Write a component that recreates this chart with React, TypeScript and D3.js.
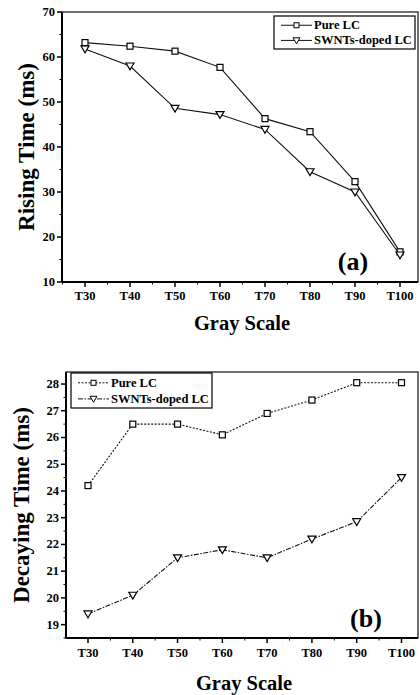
import React, { useEffect, useRef } from 'react';
import * as d3 from 'd3';

// gray scale levels
const grayLevels = ['T30', 'T40', 'T50', 'T60', 'T70', 'T80', 'T90', 'T100'];
const seriesNames = ['Pure LC', 'SWNTs-doped LC'];

// (a) rising time, ms
const risingPure = [63.2, 62.4, 61.3, 57.7, 46.3, 43.4, 32.3, 16.7];
const risingDoped = [61.8, 58.0, 48.6, 47.2, 43.9, 34.5, 30.0, 16.0];
const risingTicks = [10, 20, 30, 40, 50, 60, 70];

// (b) decaying time, ms
const decayPure = [24.2, 26.5, 26.5, 26.1, 26.9, 27.4, 28.05, 28.05];
const decayDoped = [19.4, 20.1, 21.5, 21.8, 21.5, 22.2, 22.85, 24.5];
const decayTicks = [19, 20, 21, 22, 23, 24, 25, 26, 27, 28];

const FONT = "'Liberation Serif', 'DejaVu Serif', serif";

type Panel = {
  top: number; bottom: number; left: number; right: number;
  x0: number; x1: number;
  yDomain: [number, number];
  ticks: number[]; minorStep: number;
  pure: number[]; doped: number[];
  yTitle: string; tag: string;
  tagX: number; tagY: number;
  legend: { x: number; y: number; w: number; h: number };
  pureDash: string | null; dopedDash: string | null;
  tickLabelY: number; titleY: number; yTitleX: number;
};

const panels: Panel[] = [
  {
    top: 12, bottom: 282, left: 62, right: 418,
    x0: 85, x1: 400,
    yDomain: [10, 70], ticks: risingTicks, minorStep: 5,
    pure: risingPure, doped: risingDoped,
    yTitle: 'Rising Time (ms)', tag: '(a)', tagX: 353, tagY: 270,
    legend: { x: 274, y: 16, w: 141, h: 33 },
    pureDash: null, dopedDash: null,
    tickLabelY: 300, titleY: 330, yTitleX: 26,
  },
  {
    top: 372, bottom: 638, left: 66, right: 418,
    x0: 88, x1: 401.5,
    yDomain: [18.5, 28.45], ticks: decayTicks, minorStep: 0.5,
    pure: decayPure, doped: decayDoped,
    yTitle: 'Decaying Time (ms)', tag: '(b)', tagX: 366, tagY: 627,
    legend: { x: 71, y: 373, w: 141, h: 35 },
    pureDash: '2,1.5', dopedDash: '5,1.5,1.5,1.5',
    tickLabelY: 657, titleY: 690, yTitleX: 21,
  },
];

function drawPanel(svg: d3.Selection<SVGSVGElement, unknown, null, undefined>, p: Panel) {
  const x = d3.scalePoint<string>().domain(grayLevels).range([p.x0, p.x1]);
  const y = d3.scaleLinear().domain(p.yDomain).range([p.bottom, p.top]);
  const g = svg.append('g');

  // frame
  g.append('rect')
    .attr('x', p.left).attr('y', p.top)
    .attr('width', p.right - p.left).attr('height', p.bottom - p.top)
    .attr('fill', 'none').attr('stroke', '#111').attr('stroke-width', 1.2);
  g.append('line').attr('x1', p.left).attr('x2', p.left).attr('y1', p.top).attr('y2', p.bottom)
    .attr('stroke', '#000').attr('stroke-width', 2);
  g.append('line').attr('x1', p.left).attr('x2', p.right).attr('y1', p.bottom).attr('y2', p.bottom)
    .attr('stroke', '#000').attr('stroke-width', 2);

  // y ticks
  const [ymin, ymax] = p.yDomain;
  const minor = d3.range(Math.ceil(ymin / p.minorStep) * p.minorStep, ymax, p.minorStep)
    .filter(v => !p.ticks.some(t => Math.abs(t - v) < 1e-6));
  g.selectAll('.ymin').data(minor).enter().append('line')
    .attr('x1', p.left - 2.5).attr('x2', p.left).attr('y1', d => y(d)).attr('y2', d => y(d))
    .attr('stroke', '#000').attr('stroke-width', 1);
  g.selectAll('.ymaj').data(p.ticks).enter().append('line')
    .attr('x1', p.left - 5).attr('x2', p.left).attr('y1', d => y(d)).attr('y2', d => y(d))
    .attr('stroke', '#000').attr('stroke-width', 1.5);
  g.selectAll('.ylab').data(p.ticks).enter().append('text')
    .attr('x', p.left - 7).attr('y', d => y(d) + 4)
    .attr('text-anchor', 'end').attr('font-family', FONT).attr('font-weight', 'bold')
    .attr('font-size', 12.5).text(d => String(d));

  // x ticks
  const step = x.step();
  const xMinor = d3.range(0, grayLevels.length + 1).map(i => p.x0 + (i - 0.5) * step)
    .filter(v => v > p.left && v < p.right);
  g.selectAll('.xmin').data(xMinor).enter().append('line')
    .attr('x1', d => d).attr('x2', d => d).attr('y1', p.bottom).attr('y2', p.bottom + 2.5)
    .attr('stroke', '#000').attr('stroke-width', 1);
  g.selectAll('.xmaj').data(grayLevels).enter().append('line')
    .attr('x1', d => x(d)!).attr('x2', d => x(d)!).attr('y1', p.bottom).attr('y2', p.bottom + 5)
    .attr('stroke', '#000').attr('stroke-width', 1.5);
  g.selectAll('.xlab').data(grayLevels).enter().append('text')
    .attr('x', d => x(d)!).attr('y', p.tickLabelY)
    .attr('text-anchor', 'middle').attr('font-family', FONT).attr('font-weight', 'bold')
    .attr('font-size', 12.5).text(d => d);

  // titles
  g.append('text').attr('x', (p.left + p.right) / 2 + 2).attr('y', p.titleY)
    .attr('text-anchor', 'middle').attr('font-family', FONT).attr('font-weight', 'bold')
    .attr('font-size', 20.5).text('Gray Scale');
  g.append('text')
    .attr('transform', `translate(${p.yTitleX},${(p.top + p.bottom) / 2}) rotate(-90)`)
    .attr('text-anchor', 'middle').attr('dy', '0.35em').attr('font-family', FONT)
    .attr('font-weight', 'bold').attr('font-size', 23).text(p.yTitle);
  g.append('text').attr('x', p.tagX).attr('y', p.tagY).attr('text-anchor', 'middle')
    .attr('font-family', FONT).attr('font-weight', 'bold').attr('font-size', 26).text(p.tag);

  // lines
  const line = d3.line<number>().x((_, i) => x(grayLevels[i])!).y(d => y(d));
  const series = [
    { vals: p.pure, dash: p.pureDash, shape: 'sq' },
    { vals: p.doped, dash: p.dopedDash, shape: 'tri' },
  ];
  const tri = (cx: number, cy: number, s: number) =>
    `M${cx - s},${cy - s * 0.75}L${cx + s},${cy - s * 0.75}L${cx},${cy + s * 0.95}Z`;

  series.forEach(s => {
    g.append('path').datum(s.vals).attr('d', line).attr('fill', 'none')
      .attr('stroke', '#111').attr('stroke-width', 1.1)
      .attr('stroke-dasharray', s.dash);
    if (s.shape === 'sq') {
      g.selectAll(null).data(s.vals).enter().append('rect')
        .attr('x', (_, i) => x(grayLevels[i])! - 3).attr('y', d => y(d) - 3)
        .attr('width', 6).attr('height', 6)
        .attr('fill', '#fff').attr('stroke', '#000').attr('stroke-width', 1.2);
    } else {
      g.selectAll(null).data(s.vals).enter().append('path')
        .attr('d', (d, i) => tri(x(grayLevels[i])!, y(d), 4))
        .attr('fill', '#fff').attr('stroke', '#000').attr('stroke-width', 1.2);
    }
  });

  // legend
  const L = p.legend;
  g.append('rect').attr('x', L.x).attr('y', L.y).attr('width', L.w).attr('height', L.h)
    .attr('fill', '#fff').attr('stroke', '#000').attr('stroke-width', 1.2);
  seriesNames.forEach((name, i) => {
    const cy = L.y + L.h * (i === 0 ? 0.28 : 0.74);
    const lx0 = L.x + 7, lx1 = L.x + 38, mx = (lx0 + lx1) / 2;
    const s = series[i];
    g.append('line').attr('x1', lx0).attr('x2', lx1).attr('y1', cy).attr('y2', cy)
      .attr('stroke', '#111').attr('stroke-width', 1).attr('stroke-dasharray', s.dash);
    if (s.shape === 'sq') {
      g.append('rect').attr('x', mx - 2.5).attr('y', cy - 2.5).attr('width', 5).attr('height', 5)
        .attr('fill', '#fff').attr('stroke', '#000').attr('stroke-width', 1);
    } else {
      g.append('path').attr('d', tri(mx, cy, 3.5))
        .attr('fill', '#fff').attr('stroke', '#000').attr('stroke-width', 1);
    }
    g.append('text').attr('x', lx1 + 2).attr('y', cy + 4).attr('font-family', FONT)
      .attr('font-weight', 'bold').attr('font-size', 12.5).text(name);
  });
}

export default function App() {
  const ref = useRef<SVGSVGElement>(null);
  useEffect(() => {
    const svg = d3.select(ref.current!);
    svg.selectAll('*').remove();
    panels.forEach(p => drawPanel(svg as any, p));
  }, []);
  return (
    <svg ref={ref} width={420} height={695}
      style={{ position: 'absolute', left: 0, top: 0, background: '#fff' }} />
  );
}
